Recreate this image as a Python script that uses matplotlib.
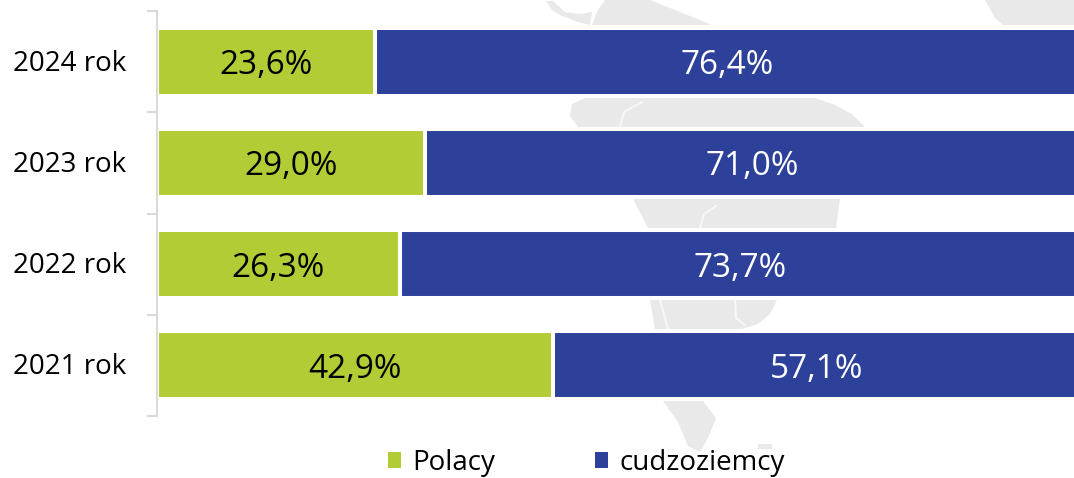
import numpy as np
import matplotlib.pyplot as plt
from matplotlib.patches import Polygon, Patch
from matplotlib.transforms import ScaledTranslation

years = ['2021 rok', '2022 rok', '2023 rok', '2024 rok']
polacy = [42.9, 26.3, 29.0, 23.6]
cudzoziemcy = [57.1, 73.7, 71.0, 76.4]

GREEN = '#b2cc35'
BLUE = '#2e419a'
W, H = 1074, 478

plt.rcParams['font.family'] = ['Open Sans', 'DejaVu Sans']
fig = plt.figure(figsize=(W / 100, H / 100), dpi=100)

# faint world map behind the chart, in pixel coordinates
bg = fig.add_axes([0, 0, 1, 1], zorder=0)
bg.set_xlim(0, W)
bg.set_ylim(H, 0)
bg.axis('off')
map_pieces = [
    [(605, 0), (650, 0), (680, 12), (712, 25), (592, 25), (598, 10)],
    [(546, 1), (553, 1), (565, 12), (580, 14), (592, 12), (590, 25), (578, 22), (562, 16), (552, 10)],
    [(985, 0), (995, 18), (1003, 25), (1074, 25), (1074, 0)],
    [(572, 104), (585, 98), (815, 98), (835, 105), (852, 114), (865, 127), (578, 127), (570, 116)],
    [(633, 199), (840, 199), (836, 228), (648, 228)],
    [(650, 300), (777, 300), (770, 314), (758, 324), (742, 329), (655, 329)],
    [(663, 401), (703, 401), (716, 418), (708, 438), (700, 452), (688, 446), (678, 422)],
    [(758, 444), (772, 444), (772, 449), (758, 449)],
]
for piece in map_pieces:
    bg.add_patch(Polygon(piece, closed=True, facecolor='#e9e9e9', edgecolor='none'))
# pale rivers and coast gaps cutting through the map
map_gaps = [
    [(620, 127), (624, 112), (642, 102)],
    [(700, 228), (704, 214), (716, 206)],
    [(660, 300), (668, 329)],
    [(735, 300), (736, 318), (745, 325)],
]
for gap in map_gaps:
    xs, ys = zip(*gap)
    bg.plot(xs, ys, color='#f7f7f7', linewidth=1.5)

# axes: 0-100% runs from x=157, right end falls past the picture edge; y axis from y=11 to y=416
ax = fig.add_axes([157 / W, 1 - 416 / H, 923 / W, 405 / H], zorder=1)
ax.patch.set_alpha(0)

y = np.arange(len(years)) + 0.5
ax.barh(y, polacy, height=0.67, color=GREEN, edgecolor='white', linewidth=2.9, label='Polacy')
ax.barh(y, cudzoziemcy, left=polacy, height=0.67, color=BLUE, edgecolor='white', linewidth=2.9,
        label='cudzoziemcy')

for i in range(len(years)):
    ax.text(polacy[i] / 2, y[i] - 0.04, f'{polacy[i]:.1f}%'.replace('.', ','),
            ha='center', va='center', fontsize=24, color='black')
    ax.text(polacy[i] + cudzoziemcy[i] / 2, y[i] - 0.04, f'{cudzoziemcy[i]:.1f}%'.replace('.', ','),
            ha='center', va='center', fontsize=24, color='white')

ax.set_xlim(0, 100)
ax.set_ylim(0, len(years))
ax.set_xticks([])
ax.set_yticks(np.arange(len(years) + 1))
ax.set_yticklabels([])
ax.set_yticks(y, minor=True)
ax.set_yticklabels(years, minor=True, fontsize=20)
ax.tick_params(axis='y', which='major', length=7.5, width=1.5, color='#d9d9d9')
ax.tick_params(axis='y', which='minor', length=0, pad=22)
# year labels sit a touch higher than the bar centres
for label in ax.get_yticklabels(minor=True):
    label.set_transform(label.get_transform() + ScaledTranslation(0, 1.5 / 100, fig.dpi_scale_trans))
for name in ['top', 'right', 'bottom']:
    ax.spines[name].set_visible(False)
ax.spines['left'].set_color('#d9d9d9')
ax.spines['left'].set_linewidth(1.5)

handles = [Patch(facecolor=GREEN, label='Polacy'), Patch(facecolor=BLUE, label='cudzoziemcy')]
fig.legend(handles=handles, ncols=2, loc='lower left', bbox_to_anchor=(388 / W, 1 / H),
           frameon=False, fontsize=20, handlelength=0.47, handleheight=0.47,
           handletextpad=0.4, columnspacing=3.6, borderpad=0, borderaxespad=0)

fig.savefig('out.png', dpi=100)
